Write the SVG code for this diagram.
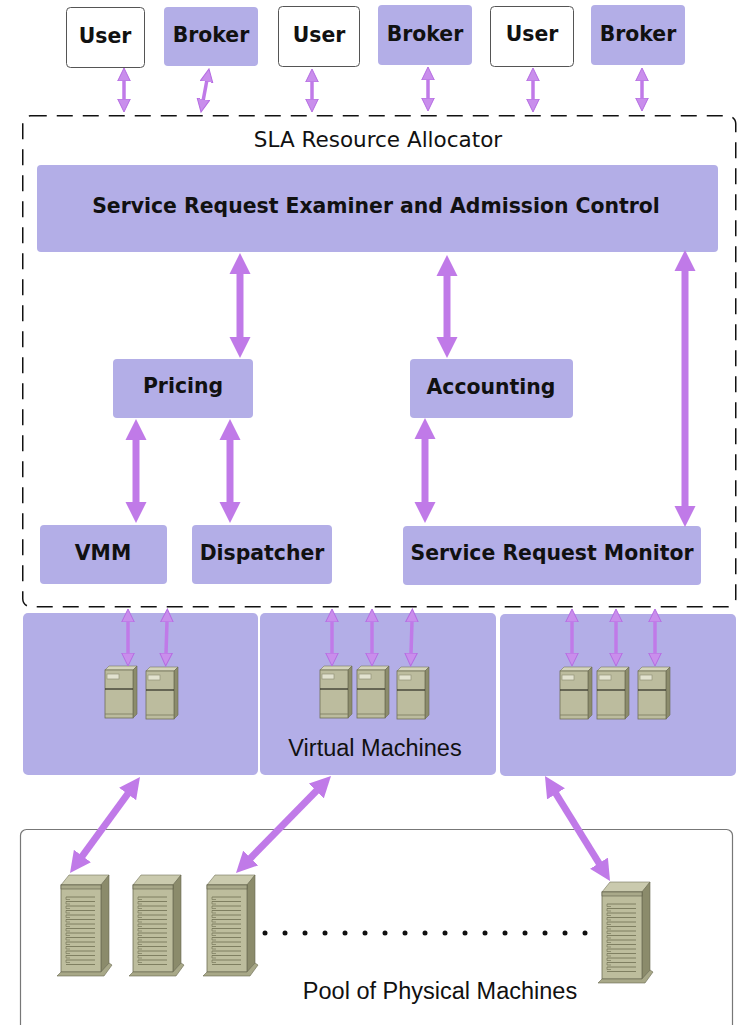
<svg xmlns="http://www.w3.org/2000/svg" xmlns:xlink="http://www.w3.org/1999/xlink" width="739" height="1025" viewBox="0 0 739 1025">
  <style>
    .box { fill: #b3aee7; }
    .client { fill: #ffffff; stroke: #555555; stroke-width: 1; }
    .lbl { font-family: "DejaVu Sans", sans-serif; font-weight: bold; font-size: 20.4px; fill: #111111; text-anchor: middle; }
    .reg { font-family: "DejaVu Sans", sans-serif; font-size: 21.5px; fill: #111111; text-anchor: middle; }
    .cap { font-family: "Liberation Sans", Arial, sans-serif; font-size: 23.5px; fill: #111111; text-anchor: middle; }
    .big { stroke: #c07ae8; stroke-width: 7; fill: none; marker-start: url(#bigHead); marker-end: url(#bigHead); }
    .small { stroke: #c07ae8; stroke-width: 3.5; fill: none; marker-start: url(#smallHead); marker-end: url(#smallHead); }
  </style>
  <defs>
    <marker id="bigHead" markerUnits="userSpaceOnUse" viewBox="0 -11 22 22" markerWidth="22" markerHeight="22" refX="1" refY="0" orient="auto-start-reverse">
      <path d="M0,-10.5 L21,0 L0,10.5 z" fill="#c07ae8"/>
    </marker>
    <marker id="smallHead" markerUnits="userSpaceOnUse" viewBox="0 -7 14 14" markerWidth="14" markerHeight="14" refX="1" refY="0" orient="auto-start-reverse">
      <path d="M0,-6.3 L13,0 L0,6.3 z" fill="#c98eec" stroke="#b56ce2" stroke-width="1"/>
    </marker>
    <!-- small desktop box used for virtual machines -->
    <symbol id="vmServer" overflow="visible">
      <polygon points="0,4 4,0 32,0 28,4" fill="#d4d4bc" stroke="#7a7a5e" stroke-width="0.6"/>
      <polygon points="28,4 32,0 32,48 28,52" fill="#8c8c6c" stroke="#6a6a50" stroke-width="0.6"/>
      <rect x="0" y="4" width="28" height="48" fill="#bcbc9e" stroke="#6f6f55" stroke-width="0.8"/>
      <rect x="2" y="8" width="12" height="5" fill="#e2e2cf" stroke="#8a8a70" stroke-width="0.6"/>
      <line x1="0" y1="23" x2="28" y2="23" stroke="#2e2e24" stroke-width="1.2"/>
      <line x1="0" y1="48" x2="28" y2="48" stroke="#7a7a5e" stroke-width="0.8"/>
    </symbol>
    <!-- tower server used for physical machines -->
    <symbol id="tower" overflow="visible">
      <polygon points="4,10 12,0 52,0 44,10" fill="#cacaae" stroke="#74745a" stroke-width="0.6"/>
      <polygon points="44,10 52,0 52,88 44,97" fill="#8b8b6b" stroke="#6a6a50" stroke-width="0.6"/>
      <rect x="4" y="10" width="40" height="87" fill="#bdbd9d" stroke="#6f6f55" stroke-width="0.8"/>
      <rect x="4" y="10" width="40" height="4" fill="#a9a98a" stroke="#5e5e48" stroke-width="0.6"/>
      <polygon points="0,101 4,97 44,97 52,88 55,90 47,101" fill="#a8a888" stroke="#6a6a50" stroke-width="0.6"/>
      <path d="M9,22 H38 M9,26.5 H38 M9,31 H38 M9,35.5 H38 M9,40 H38 M9,44.5 H38 M9,49 H38 M9,53.5 H38 M9,58 H38 M9,62.5 H38 M9,67 H38 M9,71.5 H38 M9,76 H38 M9,80.5 H38 M9,85 H38 M9,89.5 H38" stroke="#6e6e52" stroke-width="0.8" fill="none"/>
      <path d="M9,22 v2.5 h4 M9,26.5 v2.5 h4 M9,31 v2.5 h4 M9,35.5 v2.5 h4 M9,40 v2.5 h4 M9,44.5 v2.5 h4 M9,49 v2.5 h4 M9,53.5 v2.5 h4 M9,58 v2.5 h4 M9,62.5 v2.5 h4 M9,67 v2.5 h4 M9,71.5 v2.5 h4 M9,76 v2.5 h4 M9,80.5 v2.5 h4 M9,85 v2.5 h4" stroke="#6e6e52" stroke-width="0.6" fill="none"/>
    </symbol>
  </defs>

  <rect width="739" height="1025" fill="#ffffff"/>

  <!-- clients -->
  <g id="user1"><rect class="client" x="66.5" y="7.5" width="78" height="60" rx="4"/><text class="lbl" x="105" y="43">User</text></g>
  <g id="broker1"><rect class="box" x="164" y="7" width="94" height="59" rx="4"/><text class="lbl" x="211" y="42">Broker</text></g>
  <g id="user2"><rect class="client" x="278.5" y="6.5" width="81" height="60" rx="4"/><text class="lbl" x="319" y="42">User</text></g>
  <g id="broker2"><rect class="box" x="378" y="5" width="94" height="60" rx="4"/><text class="lbl" x="425" y="41">Broker</text></g>
  <g id="user3"><rect class="client" x="490.5" y="6.5" width="83" height="60" rx="4"/><text class="lbl" x="532" y="41">User</text></g>
  <g id="broker3"><rect class="box" x="591" y="5" width="94" height="60" rx="4"/><text class="lbl" x="638" y="41">Broker</text></g>

  <!-- SLA resource allocator boundary -->
  <g id="allocator">
    <rect x="22.75" y="115.75" width="713" height="491" rx="8" fill="none" stroke="#111111" stroke-width="1.5" stroke-dasharray="16 10"/>
    <text class="reg" x="378" y="147">SLA Resource Allocator</text>
  </g>

  <g id="examiner"><rect class="box" x="37" y="165" width="681" height="87" rx="4"/><text class="lbl" x="376" y="213">Service Request Examiner and Admission Control</text></g>
  <g id="pricing"><rect class="box" x="113" y="359" width="140" height="59" rx="4"/><text class="lbl" x="183" y="393">Pricing</text></g>
  <g id="accounting"><rect class="box" x="410" y="359" width="163" height="59" rx="4"/><text class="lbl" x="491" y="394">Accounting</text></g>
  <g id="vmm"><rect class="box" x="40" y="525" width="127" height="59" rx="4"/><text class="lbl" x="103" y="560">VMM</text></g>
  <g id="dispatcher"><rect class="box" x="192" y="525" width="140" height="59" rx="4"/><text class="lbl" x="262" y="560">Dispatcher</text></g>
  <g id="monitor"><rect class="box" x="403" y="526" width="298" height="59" rx="4"/><text class="lbl" x="552" y="560">Service Request Monitor</text></g>

  <!-- virtual machine panels -->
  <g id="vm-panel1">
    <rect class="box" x="23" y="613" width="235" height="162" rx="5"/>
    <use xlink:href="#vmServer" x="105" y="666"/>
    <use xlink:href="#vmServer" x="146" y="667"/>
  </g>
  <g id="vm-panel2">
    <rect class="box" x="260" y="613" width="236" height="162" rx="5"/>
    <use xlink:href="#vmServer" x="320" y="666"/>
    <use xlink:href="#vmServer" x="357" y="666"/>
    <use xlink:href="#vmServer" x="397" y="667"/>
    <text class="cap" x="375" y="756">Virtual Machines</text>
  </g>
  <g id="vm-panel3">
    <rect class="box" x="500" y="614" width="236" height="162" rx="5"/>
    <use xlink:href="#vmServer" x="560" y="667"/>
    <use xlink:href="#vmServer" x="597" y="667"/>
    <use xlink:href="#vmServer" x="638" y="667"/>
  </g>

  <!-- pool of physical machines -->
  <g id="pool">
    <rect x="20.5" y="829.5" width="712" height="210" rx="6" fill="#ffffff" stroke="#777777" stroke-width="1.2"/>
    <use xlink:href="#tower" x="57" y="875"/>
    <use xlink:href="#tower" x="129" y="875"/>
    <use xlink:href="#tower" x="203" y="875"/>
    <use xlink:href="#tower" x="598" y="882"/>
    <g fill="#111111">
      <circle cx="265" cy="933" r="2.5"/><circle cx="285" cy="933" r="2.5"/><circle cx="305" cy="933" r="2.5"/>
      <circle cx="325" cy="933" r="2.5"/><circle cx="345" cy="933" r="2.5"/><circle cx="365" cy="933" r="2.5"/>
      <circle cx="385" cy="933" r="2.5"/><circle cx="405" cy="933" r="2.5"/><circle cx="425" cy="933" r="2.5"/>
      <circle cx="445" cy="933" r="2.5"/><circle cx="465" cy="933" r="2.5"/><circle cx="485" cy="933" r="2.5"/>
      <circle cx="505" cy="933" r="2.5"/><circle cx="525" cy="933" r="2.5"/><circle cx="545" cy="933" r="2.5"/>
      <circle cx="565" cy="933" r="2.5"/><circle cx="585" cy="933" r="2.5"/>
    </g>
    <text class="cap" x="440" y="999">Pool of Physical Machines</text>
  </g>

  <!-- connectors -->
  <g id="connectors">
    <line class="small" x1="124" y1="80" x2="124" y2="100"/>
    <line class="small" x1="206.8" y1="80.8" x2="203.2" y2="100.2"/>
    <line class="small" x1="312" y1="81" x2="312" y2="100"/>
    <line class="small" x1="428" y1="79" x2="428" y2="99"/>
    <line class="small" x1="533" y1="80" x2="533" y2="100"/>
    <line class="small" x1="642" y1="80" x2="642" y2="99"/>

    <line class="big" x1="240" y1="273" x2="240" y2="338"/>
    <line class="big" x1="447" y1="275" x2="447" y2="338"/>
    <line class="big" x1="685" y1="270" x2="685" y2="507"/>
    <line class="big" x1="136" y1="439" x2="136" y2="503"/>
    <line class="big" x1="230" y1="439" x2="230" y2="503"/>
    <line class="big" x1="425" y1="438" x2="425" y2="503"/>

    <line class="small" x1="128" y1="621" x2="128" y2="654"/>
    <line class="small" x1="167" y1="621" x2="166" y2="654"/>
    <line class="small" x1="332" y1="621" x2="332" y2="654"/>
    <line class="small" x1="372" y1="621" x2="372" y2="654"/>
    <line class="small" x1="412" y1="621" x2="411" y2="654"/>
    <line class="small" x1="572" y1="621" x2="572" y2="654"/>
    <line class="small" x1="616" y1="621" x2="616" y2="654"/>
    <line class="small" x1="655" y1="621" x2="655" y2="654"/>

    <line class="big" x1="128.2" y1="793.2" x2="81.8" y2="856.8"/>
    <line class="big" x1="317" y1="790.3" x2="250" y2="858.7"/>
    <line class="big" x1="555.5" y1="793" x2="599.5" y2="864"/>
  </g>
</svg>
